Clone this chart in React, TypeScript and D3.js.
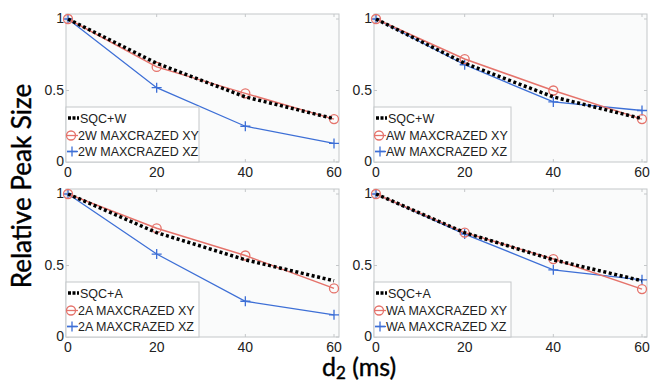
import React from 'react';
import * as d3 from 'd3';

const delays = [0, 20, 40, 60];
const xTicks = [0, 20, 40, 60];
const yTicks = [0, 0.5, 1];
const yTickLabels = ['0', '0.5', '1'];

const sqcW = [1, 0.69, 0.455, 0.303];
const sqcA = [1, 0.73, 0.54, 0.393];
const xy2W = [1, 0.665, 0.48, 0.3];
const xz2W = [1, 0.52, 0.25, 0.13];
const xyAW = [1, 0.72, 0.5, 0.3];
const xzAW = [1, 0.68, 0.42, 0.36];
const xy2A = [1, 0.76, 0.57, 0.34];
const xz2A = [1, 0.58, 0.25, 0.155];
const xyWA = [1, 0.73, 0.545, 0.335];
const xzWA = [1, 0.72, 0.47, 0.4];

const panels = [
  { left: 66, top: 14, ref: 'SQC+W', refVals: sqcW, xyName: '2W MAXCRAZED XY', xy: xy2W, xzName: '2W MAXCRAZED XZ', xz: xz2W },
  { left: 374, top: 14, ref: 'SQC+W', refVals: sqcW, xyName: 'AW MAXCRAZED XY', xy: xyAW, xzName: 'AW MAXCRAZED XZ', xz: xzAW },
  { left: 66, top: 189, ref: 'SQC+A', refVals: sqcA, xyName: '2A MAXCRAZED XY', xy: xy2A, xzName: '2A MAXCRAZED XZ', xz: xz2A },
  { left: 374, top: 189, ref: 'SQC+A', refVals: sqcA, xyName: 'WA MAXCRAZED XY', xy: xyWA, xzName: 'WA MAXCRAZED XZ', xz: xzWA },
];

const RED = '#e5736b';
const BLUE = '#3d6fd6';
const FRAME = '#c4c7c9';
const PW = 273;
const PH = 148;
const tickFont = '"Liberation Sans", Arial, sans-serif';

function Panel({ p }: { p: typeof panels[number] }) {
  const x = d3.scaleLinear().domain([0, 60]).range([p.left + 2, p.left + PW - 5]);
  const y = d3.scaleLinear().domain([0, 1]).range([p.top + PH, p.top + 5]);
  const line = d3.line<number>().x((_, i) => x(delays[i])).y(d => y(d));
  const lx = p.left;
  const ly = p.top + PH - 55;
  const lw = p.left === 66 ? 133 : 137;
  const rows = [ly + 11, ly + 28.5, ly + 44.5];

  const plus = (cx: number, cy: number, k: string) => (
    <path key={k} d={`M${cx - 5},${cy}H${cx + 5}M${cx},${cy - 5}V${cy + 5}`} stroke={BLUE} strokeWidth={1.3} fill="none" />
  );

  return (
    <g>
      <rect x={p.left} y={p.top} width={PW} height={PH} fill="#fafbfb" stroke={FRAME} strokeWidth={1} />
      {xTicks.map(t => (
        <g key={'xt' + t}>
          <line x1={x(t)} x2={x(t)} y1={p.top + PH} y2={p.top + PH - 3} stroke={FRAME} />
          <line x1={x(t)} x2={x(t)} y1={p.top} y2={p.top + 3} stroke={FRAME} />
          <text x={x(t)} y={p.top + PH + 15} textAnchor="middle" fontSize={14} fontFamily={tickFont} fill="#222">{t}</text>
        </g>
      ))}
      {yTicks.map((t, i) => (
        <g key={'yt' + t}>
          <line x1={p.left} x2={p.left + 3} y1={y(t)} y2={y(t)} stroke={FRAME} />
          <line x1={p.left + PW} x2={p.left + PW - 3} y1={y(t)} y2={y(t)} stroke={FRAME} />
          <text x={p.left - 2} y={y(t) + 4} textAnchor="end" fontSize={14} fontFamily={tickFont} fill="#222">{yTickLabels[i]}</text>
        </g>
      ))}
      <path d={line(p.xz)!} fill="none" stroke={BLUE} strokeWidth={1.3} />
      {p.xz.map((v, i) => plus(x(delays[i]), y(v), 'p' + i))}
      <path d={line(p.xy)!} fill="none" stroke={RED} strokeWidth={1.5} />
      {p.xy.map((v, i) => (
        <circle key={'c' + i} cx={x(delays[i])} cy={y(v)} r={4.5} fill="none" stroke={RED} strokeWidth={1.3} />
      ))}
      <path d={line(p.refVals)!} fill="none" stroke="#000" strokeWidth={3.5} strokeDasharray="3 2.6" />

      <rect x={lx} y={ly} width={lw} height={55} fill="#fff" stroke={FRAME} strokeWidth={1} />
      <line x1={lx + 2} x2={lx + 13} y1={rows[0]} y2={rows[0]} stroke="#000" strokeWidth={3.5} strokeDasharray="3 1.5" />
      <text x={lx + 14} y={rows[0] + 4.5} fontSize={12.5} fontFamily={tickFont} fill="#222">{p.ref}</text>
      <line x1={lx + 1} x2={lx + 12} y1={rows[1]} y2={rows[1]} stroke={RED} strokeWidth={1.3} />
      <circle cx={lx + 5} cy={rows[1]} r={4.5} fill="none" stroke={RED} strokeWidth={1.3} />
      <text x={lx + 12} y={rows[1] + 4.5} fontSize={12.5} fontFamily={tickFont} fill="#222">{p.xyName}</text>
      <line x1={lx + 1} x2={lx + 12} y1={rows[2]} y2={rows[2]} stroke={BLUE} strokeWidth={1.3} />
      {plus(lx + 6, rows[2], 'lp')}
      <text x={lx + 12} y={rows[2] + 4.5} fontSize={12.5} fontFamily={tickFont} fill="#222">{p.xzName}</text>
    </g>
  );
}

export default function App() {
  return (
    <svg width={650} height={385} style={{ position: 'absolute', left: 0, top: 0, background: '#fff' }}>
      {panels.map((p, i) => <Panel key={i} p={p} />)}
      <text transform="translate(31,186) rotate(-90)" textAnchor="middle" fontSize={26} fontFamily="Lato, 'Open Sans', sans-serif" fill="#000" stroke="#000" strokeWidth={0.4}>Relative Peak Size</text>
      <text x={322} y={376} fontSize={25} fontFamily="Lato, 'Open Sans', sans-serif" fill="#000" stroke="#000" strokeWidth={0.4}>
        d<tspan fontSize={17} dy={3}>2</tspan><tspan dy={-3}> (ms)</tspan>
      </text>
    </svg>
  );
}
